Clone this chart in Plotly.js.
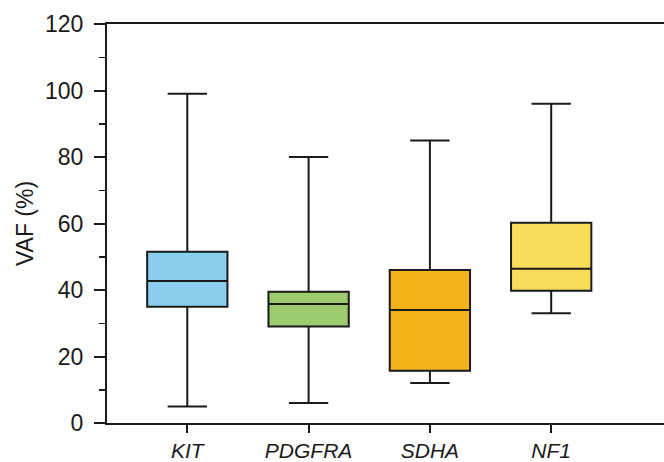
<!DOCTYPE html>
<html>
<head>
<meta charset="utf-8">
<script src="https://cdn.plot.ly/plotly-3.0.1.min.js"></script>
<style>html,body{margin:0;padding:0;background:#fff;}#chart{width:664px;height:462px;}</style>
</head>
<body>
<div id="chart"></div>
<script>
const genes = ["KIT", "PDGFRA", "SDHA", "NF1"];
const minVals = [5, 6, 12, 33];
const q1Vals = [35, 29, 15.7, 39.8];
const medianVals = [42.7, 35.8, 34, 46.4];
const q3Vals = [51.5, 39.5, 46, 60.2];
const maxVals = [99, 80, 85, 96];
const fillColors = ["#89CFEC", "#9DC96F", "#F6B31C", "#F9DC5A"];
const yTickVals = [0, 20, 40, 60, 80, 100, 120];

const traces = genes.map((g, i) => ({
  type: "box",
  x: [g],
  q1: [q1Vals[i]],
  median: [medianVals[i]],
  q3: [q3Vals[i]],
  lowerfence: [minVals[i]],
  upperfence: [maxVals[i]],
  fillcolor: fillColors[i],
  line: {color: "#1a1a1a", width: 2},
  width: 0.662,
  whiskerwidth: 0.49,
  boxpoints: false,
  hoverinfo: "skip",
  showlegend: false
}));

const layout = {
  width: 664,
  height: 462,
  margin: {l: 107, r: 0, t: 24, b: 39},
  paper_bgcolor: "#fff",
  plot_bgcolor: "#fff",
  font: {family: "Liberation Sans, Arial, sans-serif", color: "#1a1a1a", size: 22},
  boxmode: "overlay",
  xaxis: {
    type: "category",
    categoryarray: genes,
    range: [-0.662, 3.93],
    showgrid: false,
    zeroline: false,
    showline: true,
    mirror: true,
    linecolor: "#1a1a1a",
    linewidth: 2,
    ticks: "outside",
    ticklen: 8,
    tickwidth: 2,
    tickcolor: "#1a1a1a",
    tickfont: {size: 21, family: "Liberation Sans, Arial, sans-serif", style: "italic"},
    ticklabelstandoff: 0
  },
  yaxis: {
    range: [0, 120],
    tickvals: yTickVals,
    showgrid: false,
    zeroline: false,
    showline: true,
    linecolor: "#1a1a1a",
    linewidth: 2,
    ticks: "outside",
    ticklen: 11,
    tickwidth: 2,
    tickcolor: "#1a1a1a",
    tickfont: {size: 23},
    ticklabelstandoff: 6,
    minor: {dtick: 10, tick0: 0, ticks: "outside", ticklen: 6, tickwidth: 1.5, tickcolor: "#1a1a1a", showgrid: false},
    title: {text: "VAF (%)", font: {size: 23}, standoff: 5}
  }
};

Plotly.newPlot("chart", traces, layout, {displayModeBar: false, staticPlot: true});
</script>
</body>
</html>
